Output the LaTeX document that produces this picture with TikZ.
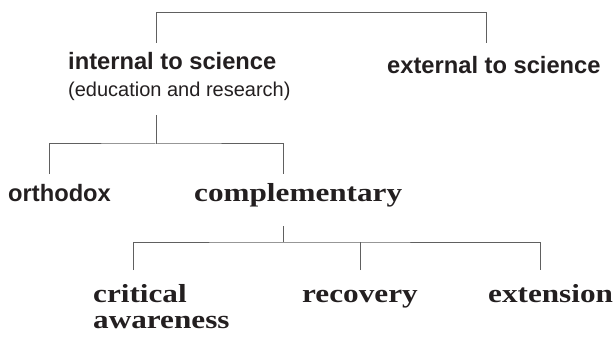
\documentclass[tikz,border=0pt]{standalone}
\usepackage{fontspec}
\setmainfont{Latin Modern Roman}
\newfontfamily\sansf{Liberation Sans}
\newfontfamily\serifb[FakeStretch=1.2]{Liberation Serif}
\definecolor{txt}{HTML}{231F20}
\definecolor{linec}{HTML}{606060}
\begin{document}
\begin{tikzpicture}[x=1pt,y=-1pt,
  sanshead/.style={font=\sansf\bfseries\fontsize{23.7}{28}\selectfont, text=txt, inner sep=0pt, anchor=base west},
  sanssub/.style={font=\sansf\fontsize{20}{24}\selectfont, text=txt, inner sep=0pt, anchor=base west},
  serifhead/.style={font=\serifb\bfseries\fontsize{26}{30}\selectfont, text=txt, inner sep=0pt, anchor=base west},
  link/.style={draw=linec, line width=1pt}]
\useasboundingbox (0,0) rectangle (614,337);
% texts
\node[sanshead] (int) at (68,70) {internal to science};
\node[sanssub] (edu) at (68,97) {(education and research)};
\node[sanshead] (ext) at (387,74) {external to science};
\node[sanshead] (orth) at (8,201) {orthodox};
\node[serifhead] (comp) at (194,201) {complementary};
\node[serifhead] (crit) at (93,302) {critical};
\node[serifhead] (aware) at (93,328) {awareness};
\node[serifhead] (rec) at (302,302) {recovery};
\node[serifhead] (extn) at (488,302) {extension};
% connector ends
\coordinate (intTop) at (156,43);
\coordinate (extTop) at (486,43);
\coordinate (j1) at (156,13);
\coordinate (intBot) at (156,115);
\coordinate (j2) at (156,144);
\coordinate (orthTop) at (49,174);
\coordinate (compTop) at (283,174);
\coordinate (compBot) at (283,226);
\coordinate (j3) at (283,242);
\coordinate (critTop) at (133,270);
\coordinate (recTop) at (360,270);
\coordinate (extnTop) at (540,270);
% connectors
\draw[link] (intTop) -- (j1) -| (extTop);
\draw[link] (intBot) -- (j2);
\draw[link] (orthTop) |- (j2) -| (compTop);
\draw[link] (compBot) -- (j3);
\draw[link] (critTop) |- (j3) -| (extnTop);
\draw[link] (recTop) -- (recTop |- j3);
\end{tikzpicture}
\end{document}
